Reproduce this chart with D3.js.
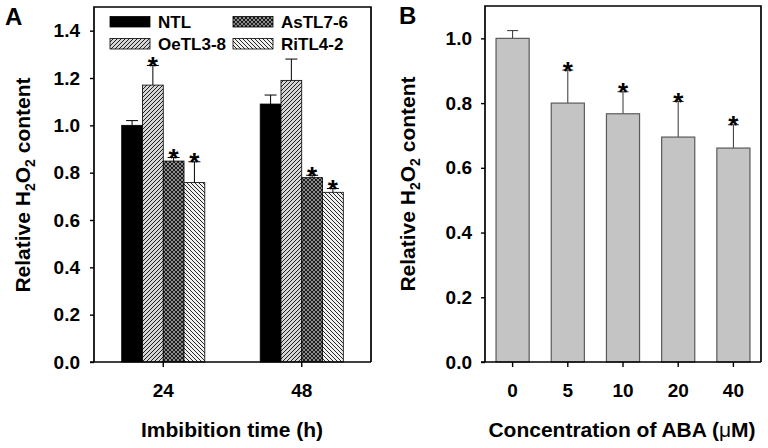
<!DOCTYPE html>
<html>
<head>
<meta charset="utf-8">
<script src="https://cdn.jsdelivr.net/npm/d3@7"></script>
<style>
  html, body { margin: 0; padding: 0; background: #fff; }
  svg { display: block; font-family: "Liberation Sans", Arial, sans-serif; font-weight: bold; }
</style>
</head>
<body>
<svg id="chart" width="768" height="448"></svg>
<script>
// ---------- Data ----------
// Panel A
const timeCategories = ["24", "48"];
const lines = ["NTL", "OeTL3-8", "AsTL7-6", "RiTL4-2"];
const ntlValues   = [1.00, 1.09];
const ntlErrors   = [0.02, 0.038];
const oetlValues  = [1.17, 1.19];
const oetlErrors  = [0.083, 0.09];
const astlValues  = [0.849, 0.779];
const astlErrors  = [0.015, 0.010];
const ritlValues  = [0.758, 0.717];
const ritlErrors  = [0.088, 0.016];
const ntlSig  = [false, false];
const oetlSig = [true, false];
const astlSig = [true, true];
const ritlSig = [true, true];
const yTicksA = [0, 0.2, 0.4, 0.6, 0.8, 1.0, 1.2, 1.4];

// Panel B
const abaCategories = ["0", "5", "10", "20", "40"];
const abaValues = [1.00, 0.80, 0.767, 0.695, 0.661];
const abaErrors = [0.024, 0.102, 0.068, 0.110, 0.072];
const abaSig    = [false, true, true, true, true];
const yTicksB = [0, 0.2, 0.4, 0.6, 0.8, 1.0];

// ---------- Setup ----------
const svg = d3.select("#chart");
const defs = svg.append("defs");
const FONT = "Liberation Sans, Arial, sans-serif";
const TICK_FS = 19;

function hatch(id, bg, paths, size, sw) {
  const p = defs.append("pattern").attr("id", id)
    .attr("patternUnits", "userSpaceOnUse").attr("width", size).attr("height", size);
  p.append("rect").attr("width", size).attr("height", size).attr("fill", bg);
  paths.forEach(d => p.append("path").attr("d", d).attr("stroke", "#000").attr("stroke-width", sw).attr("fill", "none"));
}
const s = 4;
const fwd = `M0,${s} L${s},0 M${-1},1 L1,${-1} M${s-1},${s+1} L${s+1},${s-1}`;
const bwd = `M0,0 L${s},${s} M${-1},${s-1} L1,${s+1} M${s-1},${-1} L${s+1},1`;
hatch("pOe", "#d4d4d4", [fwd], s, 0.85);
hatch("pRi", "#f0f0f0", [bwd], s, 0.85);
hatch("pAs", "#8a8a8a", [fwd, bwd], s, 0.8);

const fills = ["#000", "url(#pOe)", "url(#pAs)", "url(#pRi)"];
const seriesValues = [ntlValues, oetlValues, astlValues, ritlValues];
const seriesErrors = [ntlErrors, oetlErrors, astlErrors, ritlErrors];
const seriesSig = [ntlSig, oetlSig, astlSig, ritlSig];

function yTitle(g, x, y) {
  const t = g.append("text").attr("transform", `translate(${x},${y}) rotate(-90)`)
    .attr("text-anchor", "middle").attr("font-size", 21);
  t.append("tspan").text("Relative H");
  t.append("tspan").attr("font-size", 14).attr("dy", 5).text("2");
  t.append("tspan").attr("dy", -5).text("O");
  t.append("tspan").attr("font-size", 14).attr("dy", 5).text("2");
  t.append("tspan").attr("dy", -5).text(" content");
}

function frame(g, x0, x1, yT, yB) {
  g.append("path").attr("d", `M${x0},${yB} L${x0},${yT} L${x1},${yT} L${x1},${yB}`)
    .attr("fill", "none").attr("stroke", "#000").attr("stroke-width", 1.7);
}

function star(g, x, y) {
  g.append("text").attr("x", x).attr("y", y + 9.5).attr("text-anchor", "middle")
    .attr("font-size", 26).text("*");
}

function styleAxis(a) {
  a.selectAll("line").attr("stroke-width", 1.4);
  a.selectAll("text").attr("font-size", TICK_FS).attr("font-family", FONT).attr("font-weight", "bold");
}

// ---------- Panel A ----------
{
  const x0 = 94, x1 = 371, yT = 7, yB = 362;
  const g = svg.append("g");
  const x = d3.scaleBand().domain(timeCategories).range([x0, x1]).padding(0);
  const inner = d3.scaleBand().domain(lines).range([0, x.bandwidth() * 0.6]);
  const y = d3.scaleLinear().domain([0, 1.5]).range([yB, yT]);
  const off = (x.bandwidth() - inner.range()[1]) / 2;

  lines.forEach((ln, si) => {
    timeCategories.forEach((c, ci) => {
      const bx = x(c) + off + inner(ln);
      const v = seriesValues[si][ci], e = seriesErrors[si][ci];
      const cx = bx + inner.bandwidth() / 2;
      g.append("line").attr("x1", cx).attr("x2", cx).attr("y1", y(v)).attr("y2", y(v + e))
        .attr("stroke", "#000").attr("stroke-width", 1);
      g.append("line").attr("x1", cx - 6).attr("x2", cx + 6).attr("y1", y(v + e)).attr("y2", y(v + e))
        .attr("stroke", "#000").attr("stroke-width", 1);
      g.append("rect").attr("x", bx).attr("y", y(v)).attr("width", inner.bandwidth())
        .attr("height", yB - y(v)).attr("fill", fills[si]).attr("stroke", "#000").attr("stroke-width", 0.8);
      if (seriesSig[si][ci]) star(g, cx, y(v + e));
    });
  });

  frame(g, x0, x1, yT, yB);

  const ya = g.append("g").attr("transform", `translate(${x0},0)`)
    .call(d3.axisLeft(y).tickValues(yTicksA).tickFormat(d3.format(".1f")).tickSize(4).tickSizeOuter(0).tickPadding(10));
  ya.select(".domain").remove();
  styleAxis(ya);

  const xa = g.append("g").attr("transform", `translate(0,${yB})`)
    .call(d3.axisBottom(x).tickSize(5).tickSizeOuter(0).tickPadding(17));
  xa.select(".domain").attr("d", `M${x0 - 4},0 H${x1}`).attr("stroke-width", 1.7);
  styleAxis(xa);

  g.append("text").attr("x", 232).attr("y", 437).attr("text-anchor", "middle").attr("font-size", 21).text("Imbibition time (h)");
  yTitle(g, 30, 185);
  g.append("text").attr("x", 5).attr("y", 25).attr("font-size", 24).text("A");

  // Legend
  const legPos = [[110, 16.5], [110, 38.5], [233, 16.5], [233, 38.5]];
  lines.forEach((ln, i) => {
    const [lx, ly] = legPos[i];
    g.append("rect").attr("x", lx).attr("y", ly).attr("width", 40).attr("height", 10.5)
      .attr("fill", fills[i]).attr("stroke", "#000").attr("stroke-width", 0.8);
    g.append("text").attr("x", lx + 48).attr("y", ly + 11.5).attr("font-size", 17).text(ln);
  });
}

// ---------- Panel B ----------
{
  const x0 = 485, x1 = 761, yT = 6, yB = 362;
  const g = svg.append("g");
  const x = d3.scaleBand().domain(abaCategories).range([x0, x1]).paddingInner(0.4).paddingOuter(0.2);
  const y = d3.scaleLinear().domain([0, 1.1]).range([yB, yT]);

  abaCategories.forEach((c, i) => {
    const v = abaValues[i], e = abaErrors[i];
    const cx = x(c) + x.bandwidth() / 2;
    g.append("line").attr("x1", cx).attr("x2", cx).attr("y1", y(v)).attr("y2", y(v + e))
      .attr("stroke", "#333").attr("stroke-width", 1);
    g.append("line").attr("x1", cx - 5.5).attr("x2", cx + 5.5).attr("y1", y(v + e)).attr("y2", y(v + e))
      .attr("stroke", "#333").attr("stroke-width", 1);
    g.append("rect").attr("x", x(c)).attr("y", y(v)).attr("width", x.bandwidth())
      .attr("height", yB - y(v)).attr("fill", "#c4c4c4").attr("stroke", "#5a5a5a").attr("stroke-width", 1.2);
    if (abaSig[i]) star(g, cx, y(v + e));
  });

  frame(g, x0, x1, yT, yB);

  const ya = g.append("g").attr("transform", `translate(${x0},0)`)
    .call(d3.axisLeft(y).tickValues(yTicksB).tickFormat(d3.format(".1f")).tickSize(4).tickSizeOuter(0).tickPadding(9));
  ya.select(".domain").remove();
  styleAxis(ya);

  const xa = g.append("g").attr("transform", `translate(0,${yB})`)
    .call(d3.axisBottom(x).tickSize(5).tickSizeOuter(0).tickPadding(17));
  xa.select(".domain").attr("d", `M${x0 - 4},0 H${x1}`).attr("stroke-width", 1.7);
  styleAxis(xa);

  const t = g.append("text").attr("x", 622).attr("y", 437).attr("text-anchor", "middle").attr("font-size", 21);
  t.append("tspan").text("Concentration of ABA (");
  t.append("tspan").attr("font-weight", "normal").text("μ");
  t.append("tspan").text("M)");
  yTitle(g, 415, 184);
  g.append("text").attr("x", 399).attr("y", 24).attr("font-size", 24).text("B");
}
</script>
</body>
</html>
